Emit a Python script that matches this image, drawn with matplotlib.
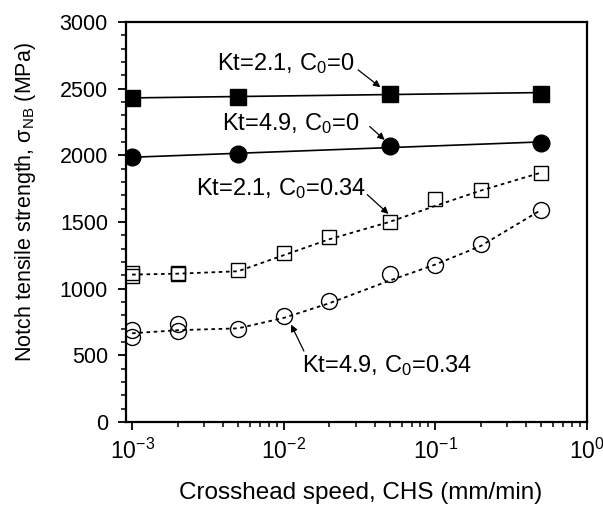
import numpy as np
import matplotlib
matplotlib.use("Agg")
import matplotlib.pyplot as plt
from matplotlib.ticker import LogLocator, MultipleLocator, FixedLocator

plt.rcParams['font.family'] = ['Liberation Sans', 'DejaVu Sans']
plt.rcParams['mathtext.fontset'] = 'custom'
plt.rcParams['mathtext.rm'] = 'Liberation Sans'
plt.rcParams['mathtext.it'] = 'Liberation Sans:italic'
plt.rcParams['mathtext.bf'] = 'Liberation Sans:bold'

# Kt=2.1 / Kt=4.9, без водорода (C0=0)
chs_c0 = [0.001, 0.005, 0.05, 0.5]
kt21_c0 = [2430, 2440, 2460, 2460]
kt49_c0 = [1990, 2008, 2072, 2095]

# C0=0.34 -- по две точки на самых малых скоростях
chs_h = [0.001, 0.001, 0.002, 0.002, 0.005, 0.01, 0.02, 0.05, 0.1, 0.2, 0.5]
kt21_h = [1095, 1115, 1108, 1116, 1137, 1265, 1387, 1500, 1675, 1742, 1867]
kt49_h = [640, 690, 685, 732, 700, 792, 907, 1112, 1177, 1337, 1587]

# линии тренда
fit_x = [0.001, 0.002, 0.005, 0.01, 0.02, 0.05, 0.1, 0.2, 0.5]
fit_kt21_h = [1105, 1112, 1130, 1250, 1370, 1500, 1620, 1735, 1870]
fit_kt49_h = [665, 688, 702, 780, 890, 1060, 1180, 1320, 1590]
line_x = [0.001, 0.5]
line_kt21 = [2430, 2470]
line_kt49 = [1985, 2100]

fig = plt.figure(figsize=(6.03, 5.09), dpi=100)
ax = fig.add_axes([0.209, 0.171, 0.764, 0.786])

ax.plot(line_x, line_kt21, color='black', lw=1.2)
ax.plot(line_x, line_kt49, color='black', lw=1.2)
ax.plot(fit_x, fit_kt21_h, color='black', lw=1.3, ls=(0, (2, 2)))
ax.plot(fit_x, fit_kt49_h, color='black', lw=1.3, ls=(0, (2, 2)))

ax.plot(chs_c0, kt21_c0, 's', ms=11.5, color='black', ls='none')
ax.plot(chs_c0, kt49_c0, 'o', ms=12, color='black', ls='none')
ax.plot(chs_h, kt21_h, 's', ms=10.5, mfc='none', mec='black', mew=1.0, ls='none')
ax.plot(chs_h, kt49_h, 'o', ms=11.5, mfc='none', mec='black', mew=1.0, ls='none')

ax.set_xscale('log')
ax.set_xlim(10 ** -3.04, 1)
ax.set_ylim(0, 3000)
ax.xaxis.set_major_locator(FixedLocator([1e-3, 1e-2, 1e-1, 1e0]))
ax.xaxis.set_minor_locator(LogLocator(base=10, subs=np.arange(2, 10)))
ax.set_xticklabels([r'$10^{-3}$', r'$10^{-2}$', r'$10^{-1}$', r'$10^{0}$'])
ax.yaxis.set_major_locator(MultipleLocator(500))
ax.yaxis.set_minor_locator(MultipleLocator(100))

ax.tick_params(which='major', direction='out', length=6, width=1.3, labelsize=15.5, pad=7)
ax.tick_params(which='minor', direction='out', length=3.5, width=1.1)
ax.tick_params(axis='x', labelsize=16.5, pad=6)
for s in ax.spines.values():
    s.set_linewidth(1.6)

ax.set_xlabel('Crosshead speed, CHS (mm/min)', fontsize=17.5, va='center')
ax.xaxis.set_label_coords(0.51, -0.178)
ax.set_ylabel(r'Notch tensile strength, σ$_{\mathregular{NB}}$ (MPa)', fontsize=15.5, va='center')
ax.yaxis.set_label_coords(-0.219, 0.55)

arrow = dict(arrowstyle='-|>', color='black', lw=0.9, mutation_scale=10, shrinkA=0, shrinkB=0)
lab = dict(fontsize=17, ha='center', va='center')
ax.text(0.0103, 2690, r'Kt=2.1, C$_{\mathregular{0}}$=0', **lab)
ax.annotate('', xy=(0.0435, 2510), xytext=(0.031, 2640), arrowprops=arrow)
ax.text(0.0112, 2240, r'Kt=4.9, C$_{\mathregular{0}}$=0', **lab)
ax.annotate('', xy=(0.0464, 2115), xytext=(0.037, 2215), arrowprops=arrow)
ax.text(0.0096, 1752, r'Kt=2.1, C$_{\mathregular{0}}$=0.34', **lab)
ax.annotate('', xy=(0.0492, 1560), xytext=(0.0356, 1705), arrowprops=arrow)
ax.text(0.0483, 420, r'Kt=4.9, C$_{\mathregular{0}}$=0.34', **lab)
ax.annotate('', xy=(0.0112, 730), xytext=(0.0136, 532), arrowprops=arrow)

fig.savefig('out.png', dpi=100)
